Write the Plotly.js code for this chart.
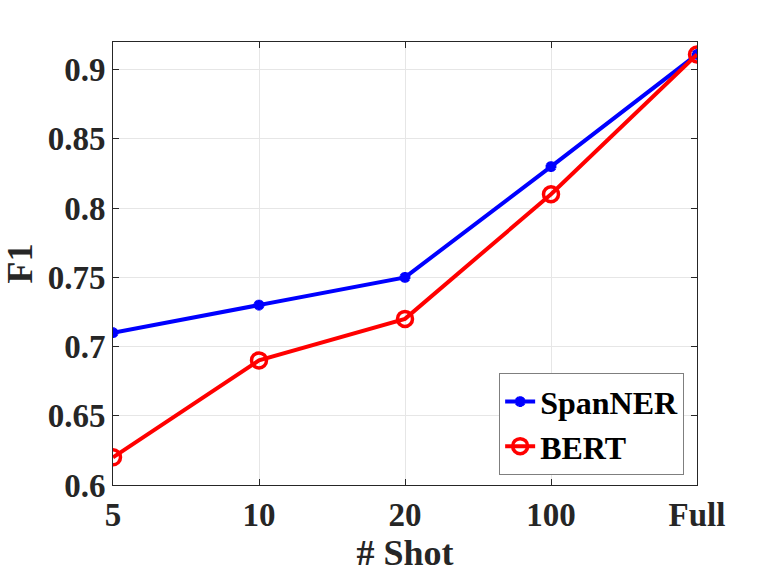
<!DOCTYPE html>
<html>
<head>
<meta charset="utf-8">
<script src="https://cdn.plot.ly/plotly-3.0.1.min.js"></script>
<style>body{margin:0;background:#fff}#plot{width:768px;height:576px}</style>
</head>
<body>
<div id="plot"></div>
<script>
const shots = ['5', '10', '20', '100', 'Full'];
const spanner = [0.71, 0.73, 0.75, 0.83, 0.911];
const bert = [0.62, 0.69, 0.72, 0.81, 0.911];

const font = '"Liberation Serif", "Times New Roman", serif';
const ink = '#262626';

const traces = [
  {
    x: shots, y: spanner, name: 'SpanNER', mode: 'lines+markers',
    line: { color: '#0000ff', width: 4 },
    marker: { symbol: 'asterisk-open', size: 9, color: '#0000ff', line: { color: '#0000ff', width: 3.5 } }
  },
  {
    x: shots, y: bert, name: 'BERT', mode: 'lines+markers',
    line: { color: '#ff0000', width: 4 },
    marker: { symbol: 'circle-open', size: 15, color: '#ff0000', line: { color: '#ff0000', width: 3.5 } }
  }
];

const layout = {
  width: 768, height: 576,
  margin: { l: 113, r: 71, t: 42, b: 91 },
  paper_bgcolor: '#fff', plot_bgcolor: '#fff',
  font: { family: font, size: 33, color: ink, weight: 'bold' },
  showlegend: true,
  legend: {
    x: 0.978, y: 0.022, xanchor: 'right', yanchor: 'bottom',
    bgcolor: '#fff', bordercolor: '#7f7f7f', borderwidth: 1,
    font: { family: font, size: 32, color: '#000', weight: 'bold' },
    tracegroupgap: 0, itemwidth: 30
  },
  xaxis: {
    type: 'category', range: [0, 4],
    showgrid: true, gridcolor: '#e6e6e6', gridwidth: 1,
    showline: true, linecolor: ink, linewidth: 1, mirror: 'ticks',
    ticks: 'inside', ticklen: 6, tickcolor: ink,
    tickfont: { family: font, size: 33, color: ink, weight: 'bold' },
    title: { text: '# Shot', font: { family: font, size: 36, color: ink, weight: 'bold' }, standoff: 3 },
    zeroline: false
  },
  yaxis: {
    range: [0.6, 0.92], tickvals: [0.6, 0.65, 0.7, 0.75, 0.8, 0.85, 0.9],
    ticktext: ['0.6', '0.65', '0.7', '0.75', '0.8', '0.85', '0.9'],
    showgrid: true, gridcolor: '#e6e6e6', gridwidth: 1,
    showline: true, linecolor: ink, linewidth: 1, mirror: 'ticks',
    ticks: 'inside', ticklen: 6, tickcolor: ink,
    tickfont: { family: font, size: 33, color: ink, weight: 'bold' },
    title: { text: 'F1', font: { family: font, size: 36, color: ink, weight: 'bold' }, standoff: 4 },
    zeroline: false
  }
};

Plotly.newPlot('plot', traces, layout, { displayModeBar: false, staticPlot: true });
</script>
</body>
</html>
